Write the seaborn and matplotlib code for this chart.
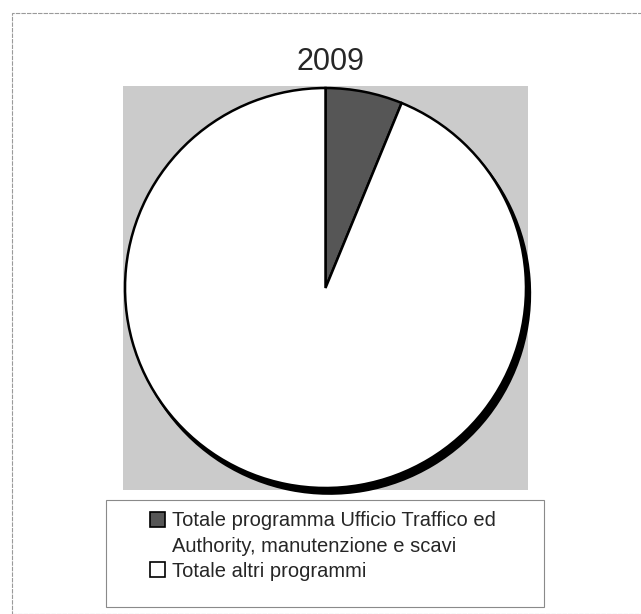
import matplotlib.pyplot as plt
import seaborn as sns
from matplotlib.patches import Rectangle, Patch

# Dati (quota percentuale stimata)
categorie = ["Totale programma Ufficio Traffico ed\nAuthority, manutenzione e scavi",
             "Totale altri programmi"]
valori = [6.2, 93.8]
colori = ["#565656", "#ffffff"]
anno = "2009"

sns.set_theme(style="white")
plt.rcParams['font.family'] = ['Liberation Sans', 'DejaVu Sans']

fig = plt.figure(figsize=(6.41, 6.14), dpi=100)
W, H = 641, 614

# cornice esterna della figura
fig.patches.append(Rectangle((12 / W, 0), 1, 1 - 13 / H, transform=fig.transFigure,
                             fill=False, edgecolor="#9a9a9a", linewidth=0.8, linestyle=(0, (4, 1))))

# area del grafico (sfondo grigio)
ax = fig.add_axes([123 / W, 1 - 490 / H, 405 / W, 404 / H])
ax.pie(valori, colors=colori, startangle=90, counterclock=False, radius=0.99, frame=True,
       wedgeprops=dict(edgecolor="black", linewidth=1.8),
       shadow=dict(ox=0.014, oy=-0.02, shade=1.0, alpha=1.0))
ax.set_facecolor("#cbcbcb")
for s in ax.spines.values():
    s.set_visible(False)
ax.set_xticks([])
ax.set_yticks([])
ax.set_xlim(-1.0, 1.0)
ax.set_ylim(-1.0, 1.0)
ax.set_aspect('auto')

fig.text(331 / W, 1 - 62 / H, anno, ha="center", va="center", fontsize=22)

# legenda: la seconda riga dell'etichetta lunga senza simbolo, come nell'originale
righe = categorie[0].split("\n")
handles = [Patch(facecolor=colori[0], edgecolor="black", linewidth=1.2),
           Patch(facecolor="none", edgecolor="none"),
           Patch(facecolor=colori[1], edgecolor="black", linewidth=1.2)]
etichette = [righe[0], righe[1], categorie[1]]
leg = fig.legend(handles, etichette, loc="center", bbox_to_anchor=(323 / W, 1 - 546 / H),
                 frameon=False, fontsize=14.5, handlelength=0.75, handleheight=0.75,
                 handletextpad=0.35, labelspacing=0.3)
fig.patches.append(Rectangle((106 / W, 1 - 607 / H), 438 / W, 107 / H, transform=fig.transFigure,
                             fill=False, edgecolor="#8a8a8a", linewidth=0.8))

fig.savefig("out.png", dpi=100)
